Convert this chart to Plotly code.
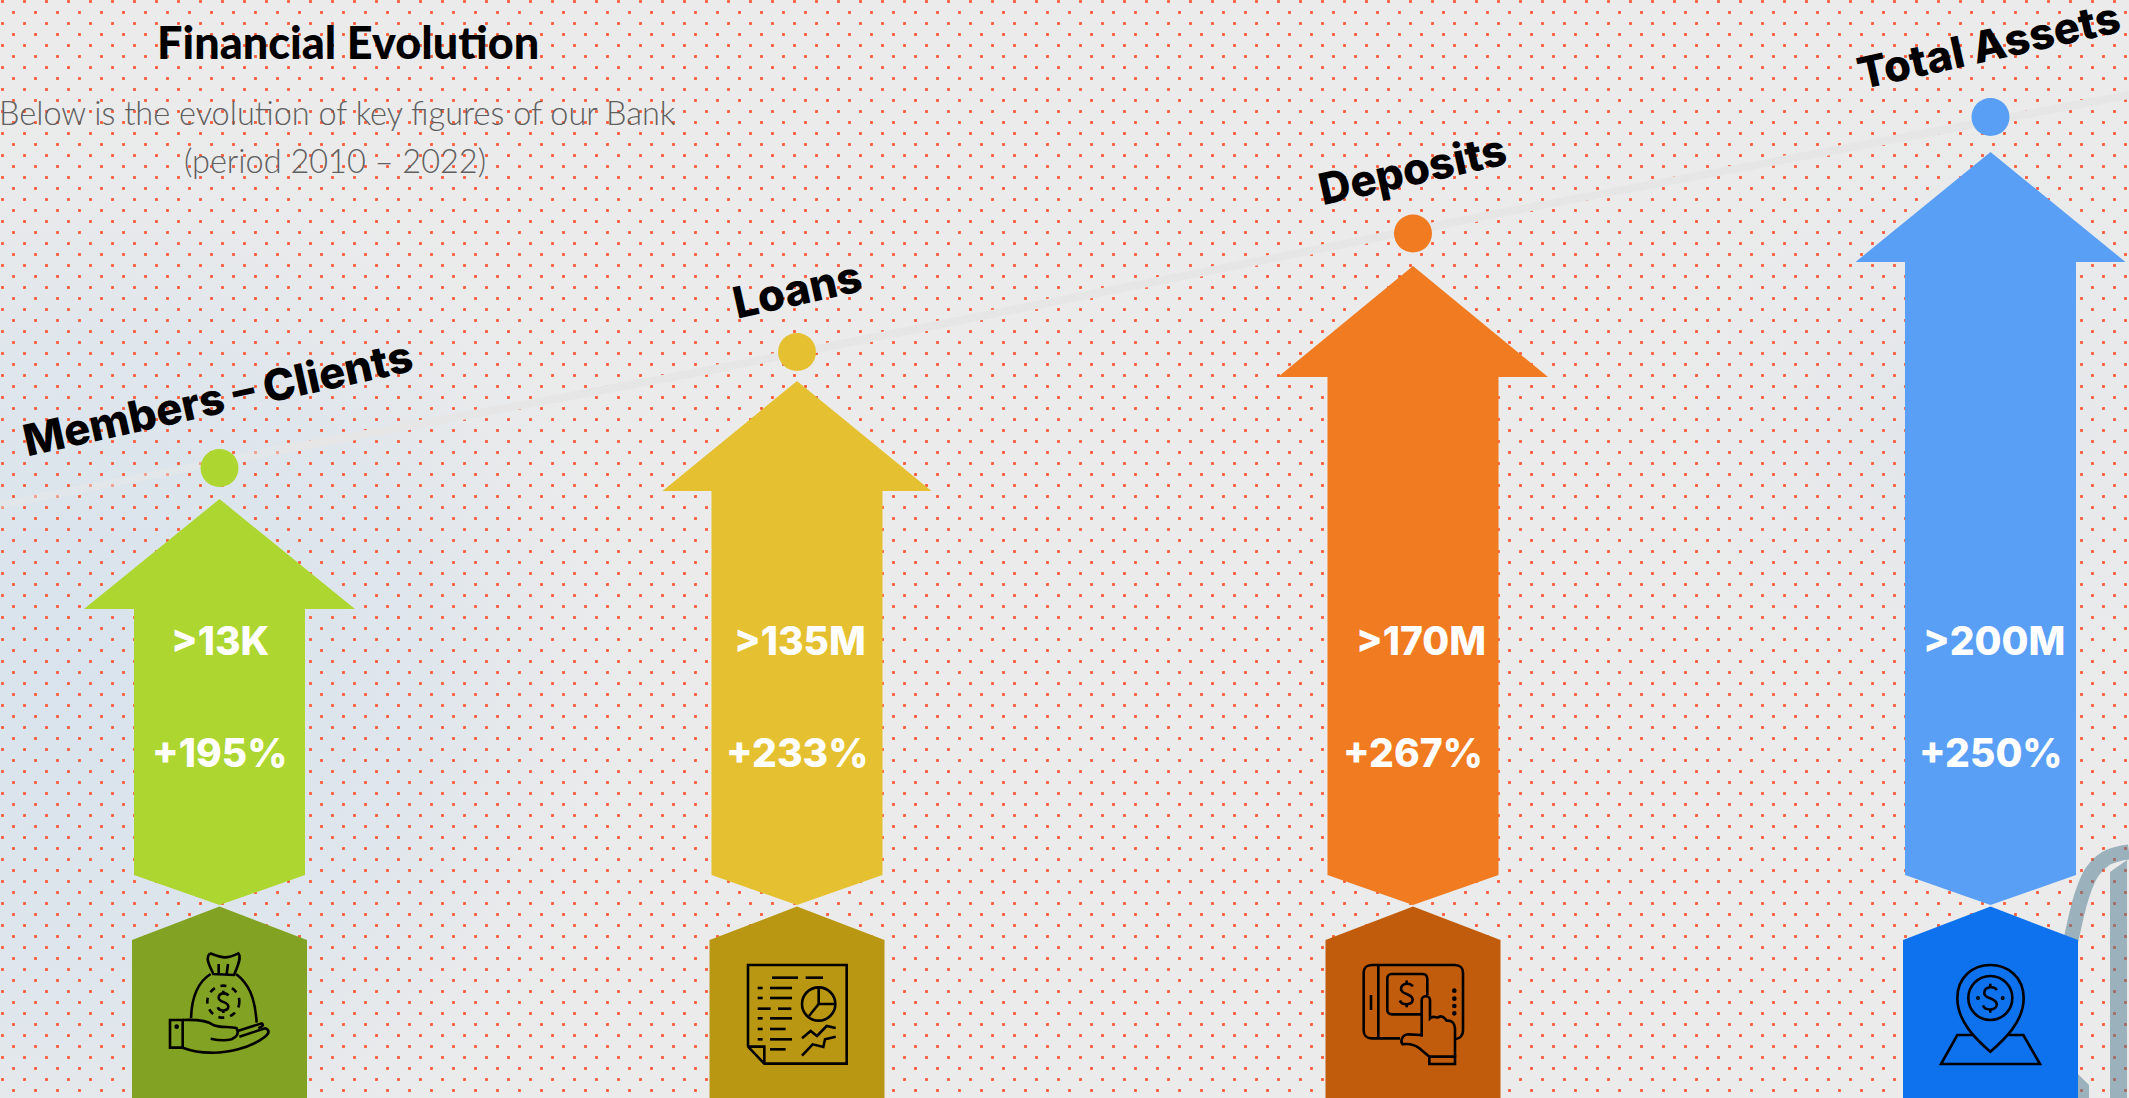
import base64, re
import numpy as np
import plotly.graph_objects as go

# ---------- data ----------
categories = ["Members – Clients", "Loans", "Deposits", "Total Assets"]
amounts = [">13K", ">135M", ">170M", ">200M"]
growth = ["+195%", "+233%", "+267%", "+250%"]
arrow_colors = ["#ADD631", "#E5C132", "#F07B21", "#5A9FF6"]
base_colors = ["#82A223", "#BA9712", "#C05C0B", "#0E72EE"]
center_x = [219.5, 797, 1413, 1990.5]
tip_y = [499, 381, 266, 152]
head_y = [609, 491, 377, 262]
dot_y = [468, 352, 233.5, 117]
head_half = [135.5, 134.5, 135, 135]
amount_x = [219.5, 800, 1421, 1993.5]
growth_x = [219.5, 797, 1413, 1991]
label_x = [217, 797, 1412, 1988]
label_y = [398, 289, 169, 45]
road_x = [280, 700, 1500, 2129]
road_y = [450, 372, 213, 95]
road_fade_x = [0, 280]
road_fade_y = [505, 450]

W, H = 2129, 1098
fig = go.Figure()

# ---------- soft background ----------
svg = f'''<svg xmlns="http://www.w3.org/2000/svg" width="{W}" height="{H}">
<defs>
<radialGradient id="a" gradientUnits="userSpaceOnUse" cx="90" cy="680" r="620">
<stop offset="0" stop-color="#d8e3ed" stop-opacity="1"/><stop offset="0.55" stop-color="#dde5ec" stop-opacity=".85"/><stop offset="1" stop-color="#ebebeb" stop-opacity="0"/></radialGradient>
<radialGradient id="b" gradientUnits="userSpaceOnUse" cx="1950" cy="430" r="400">
<stop offset="0" stop-color="#e0e5ea" stop-opacity="1"/><stop offset="1" stop-color="#ebebeb" stop-opacity="0"/></radialGradient>
</defs>
<rect width="{W}" height="{H}" fill="#ebebeb"/>
<rect width="{W}" height="{H}" fill="url(#a)"/>
<rect width="{W}" height="{H}" fill="url(#b)"/>
</svg>'''
uri = "data:image/svg+xml;base64," + base64.b64encode(svg.encode()).decode()

# ---------- dotted pattern ----------
gx, gy = np.meshgrid(np.arange(2.5, W + 2, 22), np.arange(1.5, H + 2, 22))
hx, hy = np.meshgrid(np.arange(13.5, W + 2, 22), np.arange(12.5, H + 2, 22))
fig.add_trace(go.Scatter(
    x=np.concatenate([gx.ravel(), hx.ravel()]), y=np.concatenate([gy.ravel(), hy.ravel()]),
    mode="markers", marker=dict(symbol="square", size=2.8, color="#fb5a37", line=dict(width=0)),
    hoverinfo="skip", showlegend=False))

# road line above the dots
fig.add_trace(go.Scatter(x=road_fade_x, y=road_fade_y, mode="lines",
                         line=dict(color="rgba(232,232,232,0.45)", width=8), hoverinfo="skip", showlegend=False))
fig.add_trace(go.Scatter(x=road_x, y=road_y, mode="lines",
                         line=dict(color="#e6e6e6", width=8), hoverinfo="skip", showlegend=False))

# faint decoration at the right
wm = "rgba(75,119,141,0.5)"
fig.add_trace(go.Scatter(x=[2071, 2082, 2092, 2105, 2118, 2129], y=[940, 895, 872, 859, 854, 852], mode="lines",
                         line=dict(color=wm, width=15, shape="spline"), hoverinfo="skip", showlegend=False))
fig.add_trace(go.Scatter(x=[2110, 2127, 2127, 2110, 2110], y=[872, 860, 1098, 1098, 872], mode="lines", fill="toself",
                         fillcolor=wm, line=dict(width=0), hoverinfo="skip", showlegend=False))
fig.add_trace(go.Scatter(x=[2078, 2089, 2089, 2078, 2078], y=[1074, 1085, 1098, 1098, 1074], mode="lines", fill="toself",
                         fillcolor=wm, line=dict(width=0), hoverinfo="skip", showlegend=False))

# ---------- arrows ----------
SHAFT = 85.5; BASE = 87.5; SIDE_B = 875; TIP_B = 905; TOP2 = 906.5; SHOULDER = 940
for i in range(4):
    c = center_x[i]
    ax = [c, c + head_half[i], c + SHAFT, c + SHAFT, c, c - SHAFT, c - SHAFT, c - head_half[i], c]
    ay = [tip_y[i], head_y[i], head_y[i], SIDE_B, TIP_B, SIDE_B, head_y[i], head_y[i], tip_y[i]]
    fig.add_trace(go.Scatter(x=ax, y=ay, mode="lines", fill="toself", fillcolor=arrow_colors[i],
                             line=dict(width=0), hoverinfo="skip", showlegend=False))
    bx = [c, c + BASE, c + BASE, c - BASE, c - BASE, c]
    by = [TOP2, SHOULDER, H + 5, H + 5, SHOULDER, TOP2]
    fig.add_trace(go.Scatter(x=bx, y=by, mode="lines", fill="toself", fillcolor=base_colors[i],
                             line=dict(width=0), hoverinfo="skip", showlegend=False))
    fig.add_trace(go.Scatter(x=[c], y=[dot_y[i]], mode="markers",
                             marker=dict(size=38, color=arrow_colors[i], line=dict(width=0)),
                             hoverinfo="skip", showlegend=False))

# ---------- icons (black line art) ----------
shapes = []
LW = 2.6

def tf(path, ox, oy):
    return re.sub(r"(-?\d+\.?\d*)[ ,]+(-?\d+\.?\d*)",
                  lambda m: f"{ox + float(m.group(1)) / 3:.2f},{oy + float(m.group(2)) / 3:.2f}", path)

def stroke(path, ox, oy, dash=None, fill=None):
    line = dict(color="black", width=LW)
    if dash:
        line["dash"] = dash
    shapes.append(dict(type="path", path=tf(path, ox, oy), xref="x", yref="y", line=line,
                       fillcolor=fill or "rgba(0,0,0,0)", layer="above"))

def circle(cx, cy, r, ox, oy, dash=None, filled=False):
    line = dict(color="black", width=LW)
    if dash:
        line["dash"] = dash
    shapes.append(dict(type="circle", xref="x", yref="y", x0=ox + (cx - r) / 3, x1=ox + (cx + r) / 3,
                       y0=oy + (cy - r) / 3, y1=oy + (cy + r) / 3, line=line,
                       fillcolor="black" if filled else "rgba(0,0,0,0)", layer="above"))

def dollar(cx, cy, ox, oy, s=1.0):
    p = lambda dx, dy: f"{cx + dx * s} {cy + dy * s}"
    stroke(f"M{p(15, -18)} C{p(10, -28)} {p(-13, -28)} {p(-14, -12)} C{p(-15, 3)} {p(13, -2)} {p(15, 14)} "
           f"C{p(15, 30)} {p(-12, 30)} {p(-17, 17)}", ox, oy)
    stroke(f"M{p(0, -33)} L{p(0, -25)}", ox, oy)
    stroke(f"M{p(0, 27)} L{p(0, 34)}", ox, oy)

# money bag
o = (110, 900)
for d in ["M300 160 C315 165 330 172 345 172 C360 172 375 165 385 160 C395 170 385 195 372 225 L310 222 C298 195 285 175 300 160",
          "M326 192 L326 222", "M354 192 L350 222",
          "M302 222 C265 245 245 285 243 355", "M378 222 C415 250 435 290 440 368",
          "M180 360 L218 360 L218 443 L180 443 Z",
          "M218 360 C260 358 290 360 310 375 C330 385 360 378 380 385 C388 400 380 412 365 418 C340 424 320 420 302 416",
          "M385 392 L455 370 C462 375 458 380 445 385",
          "M388 410 L465 385 C480 390 478 400 465 410 C420 445 350 460 300 458 C270 458 245 453 218 443"]:
    stroke(d, *o)
circle(200, 380, 3, *o, filled=True)
circle(340, 305, 48, *o, dash="6px,6px")
dollar(340, 305, *o)

# report
o = (680, 900)
for d in ["M204 440 L204 195 L500 195 L500 491 L253 491 L204 440", "M204 440 L253 440 L253 491",
          "M276 233 L354 233", "M377 233 L429 233", "M233 264 L248 264", "M270 264 L336 264",
          "M233 294 L248 294", "M270 294 L336 294", "M233 326 L272 326", "M294 326 L334 326",
          "M233 355 L248 355", "M270 355 L336 355", "M233 387 L248 387", "M270 387 L317 387",
          "M233 418 L248 418", "M270 418 L336 418", "M270 448 L317 448",
          "M416 262 L416 312 L466 312", "M416 312 L387 348",
          "M366 415 L392 393 L411 408 L440 378 L467 384", "M366 467 L398 433 L430 441 L435 418 L467 410"]:
    stroke(d, *o)
circle(416, 312, 50, *o)

# tablet
o = (1300, 900)
for d in ["M300 415 L215 415 C200 415 191 405 191 392 L191 218 C191 205 200 195 215 195 L465 195 C480 195 489 205 489 218 L489 392 C489 405 480 415 465 418",
          "M235 195 L235 415", "M213 285 L213 330",
          "M365 343 L275 343 C265 343 262 335 262 330 L262 235 C262 228 268 222 275 222 L368 222 C378 222 382 228 382 238 L382 285",
          "M365 410 L365 300 C365 285 390 285 390 300 L390 355 C400 345 410 355 415 352 C425 345 435 355 440 362 C455 360 465 370 465 385 L465 470",
          "M365 405 L325 403 C305 405 300 425 308 433 C330 430 345 435 358 445 L388 470 L388 492 L465 492 L465 470 L388 470"]:
    stroke(d, *o)
for cy in [272, 296, 318, 340]:
    circle(463, cy, 3, *o, filled=True)
dollar(320, 281, *o, s=1.2)

# pin on map
o = (1780, 800)
stroke("M631 755 C590 720 532 665 532 595 C532 530 580 495 631 495 C682 495 731 530 731 595 C731 665 672 720 631 755 Z", *o)
stroke("M578 705 L532 705 L483 792 L780 792 L730 705 L685 705", *o)
circle(631, 594, 66, *o)
circle(594, 594, 2, *o, filled=True)
circle(668, 594, 2, *o, filled=True)
dollar(631, 594, *o, s=1.3)

# ---------- text ----------
ann = []
def text(x, y, s, size, color, family, weight=400, angle=0):
    ann.append(dict(x=x, y=y, xref="x", yref="y", text=s, showarrow=False, textangle=angle,
                    xanchor="center", yanchor="middle",
                    font=dict(size=size, color=color, family=family, weight=weight)))

text(347.5, 42, "Financial Evolution", 45, "black", "Lato", 900)
text(337, 112, "Below is the evolution of key figures of our Bank", 32.5, "#5f5f5f", "Lato", 300)
text(335, 160, "(period 2010 – 2022)", 32.5, "#5f5f5f", "Lato", 300)
for i in range(4):
    text(label_x[i], label_y[i], categories[i], 43.5, "black", "Inter", 800, -12.5)
    text(amount_x[i], 640, amounts[i], 39, "white", "Inter", 800)
    text(growth_x[i], 752, growth[i], 39, "white", "Inter", 800)

fig.update_layout(
    width=W, height=H, autosize=False, margin=dict(l=0, r=0, t=0, b=0),
    paper_bgcolor="#ebebeb", plot_bgcolor="rgba(0,0,0,0)", showlegend=False,
    xaxis=dict(range=[0, W], visible=False, fixedrange=True),
    yaxis=dict(range=[H, 0], visible=False, fixedrange=True),
    images=[dict(source=uri, xref="paper", yref="paper", x=0, y=1, sizex=1, sizey=1,
                 xanchor="left", yanchor="top", sizing="stretch", layer="below")],
    shapes=shapes, annotations=ann)

fig.write_html("out.html", config=dict(displayModeBar=False),
               post_script="document.body.style.margin='0';document.documentElement.style.overflow='hidden';")
